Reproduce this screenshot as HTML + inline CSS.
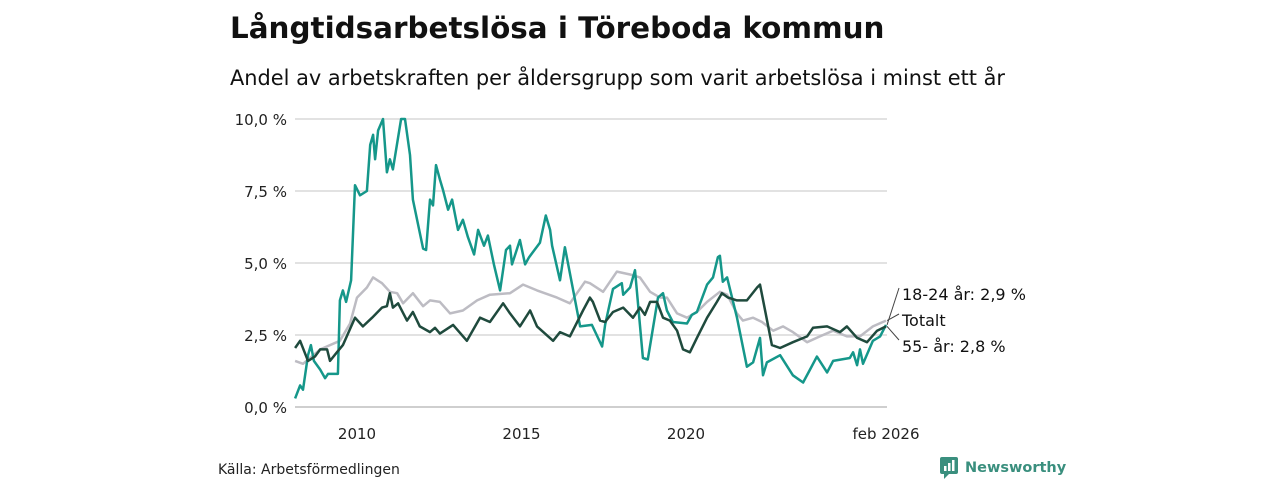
<!DOCTYPE html>
<html><head><meta charset="utf-8"><style>
body{margin:0;width:1280px;height:480px;background:#fff;overflow:hidden;font-family:"Liberation Sans","DejaVu Sans",sans-serif;}
svg text{font-family:"DejaVu Sans","Liberation Sans",sans-serif;}
</style></head><body>
<svg id="c" width="1280" height="480">
<text x="230" y="38" font-size="29.4" font-weight="bold" fill="#111">Långtidsarbetslösa i Töreboda kommun</text>
<text x="230" y="85" font-size="20.9" fill="#111">Andel av arbetskraften per åldersgrupp som varit arbetslösa i minst ett år</text>
<g id="grid"></g><g id="lines"></g><g id="labels"></g>
<text x="218" y="474" font-size="14" fill="#222">Källa: Arbetsförmedlingen</text>
<g>
<rect x="940" y="457" width="18" height="17" rx="2" fill="#3a8f7e"/>
<path d="M944 474 L944 479 L949 474 Z" fill="#3a8f7e"/>
<rect x="944" y="466" width="2.5" height="5" fill="#fff"/><rect x="948" y="463" width="2.5" height="8" fill="#fff"/><rect x="952" y="460" width="2.5" height="11" fill="#fff"/>
<text x="965" y="472" font-size="14.5" font-weight="bold" fill="#3a8f7e">Newsworthy</text>
</g>
</svg>
<script>
const yTicks=[0,2.5,5,7.5,10];
const yTickLabels=["0,0 %","2,5 %","5,0 %","7,5 %","10,0 %"];
const xTicks=[2010,2015,2020,2026.08];
const xTickLabels=["2010","2015","2020","feb 2026"];
const youngYears=[2008.12,2008.27,2008.36,2008.51,2008.60,2008.69,2008.88,2009.03,2009.12,2009.42,2009.48,2009.57,2009.67,2009.82,2009.94,2010.09,2010.30,2010.40,2010.49,2010.55,2010.64,2010.79,2010.91,2011.00,2011.09,2011.34,2011.46,2011.61,2011.70,2012.01,2012.10,2012.22,2012.31,2012.40,2012.52,2012.61,2012.77,2012.89,2013.07,2013.22,2013.37,2013.56,2013.68,2013.86,2013.98,2014.16,2014.35,2014.53,2014.65,2014.71,2014.95,2015.11,2015.23,2015.56,2015.74,2015.87,2015.93,2016.17,2016.32,2016.78,2017.14,2017.45,2017.54,2017.78,2018.05,2018.09,2018.30,2018.45,2018.69,2018.84,2019.15,2019.30,2019.42,2019.60,2020.03,2020.18,2020.33,2020.64,2020.82,2020.97,2021.03,2021.12,2021.25,2021.55,2021.85,2022.04,2022.25,2022.34,2022.46,2022.86,2023.25,2023.56,2023.77,2023.98,2024.29,2024.47,2024.98,2025.08,2025.20,2025.29,2025.38,2025.68,2025.90,2026.08];
const youngValues=[0.3,0.75,0.6,1.8,2.15,1.6,1.3,1.0,1.15,1.15,3.7,4.05,3.65,4.4,7.7,7.35,7.5,9.1,9.45,8.6,9.6,10.0,8.15,8.6,8.25,10.0,10.0,8.75,7.2,5.5,5.45,7.2,7.0,8.4,7.9,7.55,6.85,7.2,6.15,6.5,5.9,5.3,6.15,5.6,5.95,4.95,4.05,5.45,5.6,4.95,5.8,4.95,5.2,5.7,6.65,6.15,5.6,4.4,5.55,2.8,2.85,2.1,2.85,4.1,4.3,3.9,4.15,4.75,1.7,1.65,3.8,3.95,3.35,2.95,2.9,3.2,3.3,4.25,4.5,5.2,5.25,4.35,4.5,3.1,1.4,1.55,2.4,1.1,1.55,1.8,1.1,0.85,1.3,1.75,1.2,1.6,1.7,1.9,1.45,2.0,1.5,2.3,2.45,2.85];
const oldYears=[2008.12,2008.27,2008.51,2008.72,2008.88,2009.09,2009.18,2009.39,2009.57,2009.94,2010.18,2010.46,2010.76,2010.91,2011.00,2011.09,2011.25,2011.52,2011.70,2011.91,2012.22,2012.37,2012.52,2012.92,2013.34,2013.74,2014.04,2014.44,2014.65,2014.95,2015.26,2015.47,2015.96,2016.17,2016.47,2016.87,2017.08,2017.17,2017.39,2017.54,2017.78,2018.09,2018.39,2018.60,2018.75,2018.91,2019.12,2019.30,2019.51,2019.73,2019.91,2020.12,2020.33,2020.64,2020.94,2021.09,2021.28,2021.55,2021.85,2022.16,2022.25,2022.61,2022.86,2023.25,2023.68,2023.86,2024.29,2024.68,2024.89,2025.20,2025.50,2025.81,2026.08];
const oldValues=[2.05,2.3,1.6,1.75,2.0,2.0,1.6,1.9,2.15,3.1,2.8,3.1,3.45,3.5,3.95,3.45,3.6,3.0,3.3,2.8,2.6,2.75,2.55,2.85,2.3,3.1,2.95,3.6,3.25,2.8,3.35,2.8,2.3,2.6,2.45,3.35,3.8,3.65,3.0,2.95,3.3,3.45,3.1,3.45,3.2,3.65,3.65,3.1,3.0,2.65,2.0,1.9,2.4,3.1,3.65,3.95,3.8,3.7,3.7,4.15,4.25,2.15,2.05,2.25,2.45,2.75,2.8,2.6,2.8,2.4,2.25,2.65,2.8];
const totYears=[2008.12,2008.36,2008.88,2009.48,2009.79,2010.00,2010.30,2010.49,2010.76,2011.00,2011.22,2011.40,2011.70,2012.01,2012.22,2012.52,2012.83,2013.22,2013.65,2014.04,2014.65,2015.05,2015.47,2016.08,2016.47,2016.93,2017.08,2017.48,2017.90,2018.30,2018.60,2018.91,2019.21,2019.42,2019.73,2020.03,2020.33,2020.64,2021.03,2021.25,2021.55,2021.73,2022.04,2022.31,2022.65,2022.95,2023.25,2023.68,2024.07,2024.47,2024.89,2025.29,2025.68,2026.08];
const totValues=[1.6,1.5,2.0,2.3,2.9,3.8,4.15,4.5,4.3,4.0,3.95,3.6,3.95,3.5,3.7,3.65,3.25,3.35,3.7,3.9,3.95,4.25,4.05,3.8,3.6,4.35,4.3,4.0,4.7,4.6,4.5,4.0,3.8,3.8,3.25,3.1,3.3,3.65,4.0,3.9,3.25,3.0,3.1,2.95,2.65,2.8,2.6,2.25,2.45,2.65,2.45,2.45,2.8,3.0];
const NS="http://www.w3.org/2000/svg";
const X=y=>357+(y-2010)*32.9;
const Y=v=>407-v*28.8;
function mk(tag,attrs,parent){const e=document.createElementNS(NS,tag);for(const k in attrs)e.setAttribute(k,attrs[k]);parent.appendChild(e);return e;}
const grid=document.getElementById('grid'),lines=document.getElementById('lines'),labels=document.getElementById('labels');
yTicks.forEach((t,i)=>{
  const l=mk('line',{x1:295,x2:887,y1:Y(t),y2:Y(t),stroke:t===0?'#cfcfcf':'#e2e2e2','stroke-width':2},grid);
  
  
  const tx=mk('text',{x:287,y:Y(t)+6,'text-anchor':'end','font-size':15,fill:'#222'},grid);
  tx.textContent=yTickLabels[i];
  
  
});
xTicks.forEach((t,i)=>{
  const tx=mk('text',{x:X(t),y:439,'text-anchor':'middle','font-size':15,fill:'#222'},grid);
  tx.textContent=xTickLabels[i];
  
  
});
function series(xs,vs,color,name){
  const d=xs.map((x,i)=>(i?'L':'M')+X(x).toFixed(1)+' '+Y(vs[i]).toFixed(1)).join(' ');
  const p=mk('path',{d:d,fill:'none',stroke:color,'stroke-width':2.5,'stroke-linejoin':'round'},lines);
  
  
}
series(totYears,totValues,'#bdbcc3','line-totalt');
series(youngYears,youngValues,'#15978a','line-18-24');
series(oldYears,oldValues,'#1f4a3d','line-55-plus');
const lab=[["18-24 år: 2,9 %",294,youngValues[youngValues.length-1],'label-18-24'],["Totalt",320,totValues[totValues.length-1],'label-totalt'],["55- år: 2,8 %",346,oldValues[oldValues.length-1],'label-55-plus']];
lab.forEach(a=>{
  const ln=mk('line',{x1:X(2026.08)+1,y1:Y(a[2]),x2:899,y2:a[1]-6,stroke:'#444','stroke-width':1},labels);
  
  
  const t=mk('text',{x:902,y:a[1]+6,'font-size':16,fill:'#111'},labels);
  t.textContent=a[0];
  
  
});
</script>
</body></html>
